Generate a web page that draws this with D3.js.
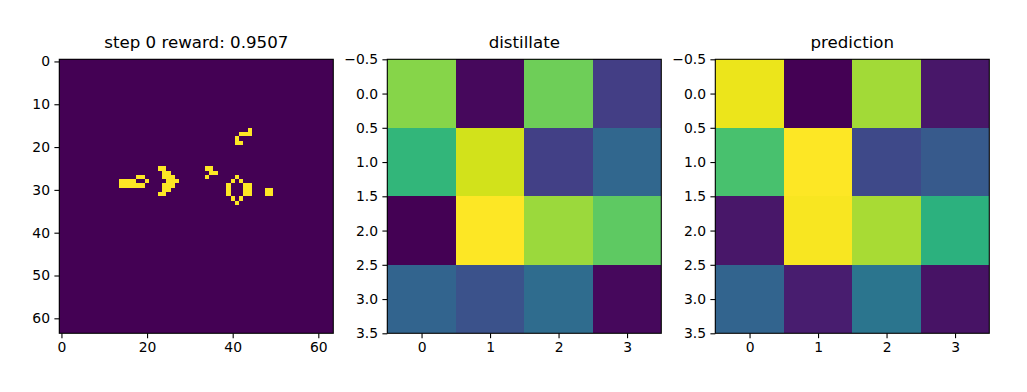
<!DOCTYPE html>
<html><head><meta charset="utf-8">
<script src="https://cdn.jsdelivr.net/npm/d3@7"></script>
<style>body{margin:0;background:#fff}svg{display:block}text{font-family:"DejaVu Sans",sans-serif;fill:#000}</style>
</head><body>
<svg id="c" width="1027" height="392"></svg>
<script>
// ---- data ----
const gridSize = 64;
// live cells [col,row] of the step-0 board
const aliveCells = [
  [14,28],[15,28],[16,28],[14,29],[15,29],[16,29],[17,29],
  [18,27],[19,27],[17,28],[20,28],[18,29],[19,29],
  [23,25],[24,25],[24,26],[25,26],[24,27],[25,27],[26,27],[25,28],[26,28],[27,28],
  [24,29],[25,29],[26,29],[24,30],[25,30],[23,31],[24,31],
  [44,16],[42,17],[43,17],[44,17],[41,18],[41,19],[42,19],
  [34,25],[35,25],[35,26],[36,26],[34,27],
  [41,27],[40,28],[42,28],[39,29],[43,29],[44,29],[39,30],[43,30],[44,30],[39,31],[43,31],[44,31],[40,32],[42,32],[41,33],
  [48,30],[49,30],[48,31],[49,31]
];
const distillate = [
  [0.82,0.02,0.78,0.18],
  [0.66,0.93,0.19,0.33],
  [0.00,1.00,0.85,0.75],
  [0.32,0.25,0.35,0.02]
];
const prediction = [
  [0.97,0.00,0.86,0.06],
  [0.71,1.00,0.22,0.28],
  [0.06,0.99,0.87,0.64],
  [0.32,0.08,0.39,0.05]
];
const titles = ["step 0 reward: 0.9507","distillate","prediction"];
const bigXTicks = [0,20,40,60];
const bigYTicks = [0,10,20,30,40,50,60];
const smallXTicks = [0,1,2,3];
const smallYTicks = [-0.5,0,0.5,1,1.5,2,2.5,3,3.5];

// ---- drawing ----
const svg = d3.select("#c");
const size = 274, top0 = 59.3;
const lefts = [59.3, 387.3, 715.3];
const fmtSmall = v => d3.format(".1f")(v).replace("-", "\u2212");

function panel(i, n, matrix, xt, yt, yfmt) {
  const x0 = lefts[i];
  const x = d3.scaleLinear().domain([-0.5, n - 0.5]).range([x0, x0 + size]);
  const y = d3.scaleLinear().domain([-0.5, n - 0.5]).range([top0, top0 + size]);
  const flat = [];
  matrix.forEach((row, r) => row.forEach((v, c) => flat.push({r, c, v})));
  const ext = d3.extent(flat, d => d.v);
  const color = d3.scaleSequential(d3.interpolateViridis).domain(ext);
  const g = svg.append("g");
  g.selectAll("rect.cell").data(flat).join("rect")
    .attr("x", d => x(d.c - 0.5)).attr("y", d => y(d.r - 0.5))
    .attr("width", d => x(d.c + 0.5) - x(d.c - 0.5) + 0.05)
    .attr("height", d => y(d.r + 0.5) - y(d.r - 0.5) + 0.05)
    .attr("fill", d => color(d.v)).attr("shape-rendering", "crispEdges");
  g.append("rect").attr("x", x0).attr("y", top0).attr("width", size).attr("height", size)
    .attr("fill", "none").attr("stroke", "#000").attr("stroke-width", 1.1);
  const ax = g.append("g").attr("transform", `translate(0,${top0 + size})`)
    .call(d3.axisBottom(x).tickValues(xt).tickSize(4.9).tickPadding(4.2).tickFormat(d3.format("d")));
  const ay = g.append("g").attr("transform", `translate(${x0},0)`)
    .call(d3.axisLeft(y).tickValues(yt).tickSize(4.9).tickPadding(4.4).tickFormat(yfmt));
  [ax, ay].forEach(a => {
    a.select(".domain").remove();
    a.selectAll(".tick line").attr("stroke", "#000").attr("stroke-width", 1.1);
    a.selectAll(".tick text").attr("font-size", "13.9px").attr("font-family", "DejaVu Sans").attr("fill", "#000");
  });
  g.append("text").attr("x", x0 + size / 2).attr("y", 47.5).attr("text-anchor", "middle")
    .attr("font-size", "16.67px").text(titles[i]);
}

const board = d3.range(gridSize).map(() => d3.range(gridSize).map(() => 0));
aliveCells.forEach(([c, r]) => { board[r][c] = 1; });
panel(0, gridSize, board, bigXTicks, bigYTicks, d3.format("d"));
panel(1, 4, distillate, smallXTicks, smallYTicks, fmtSmall);
panel(2, 4, prediction, smallXTicks, smallYTicks, fmtSmall);
</script>
</body></html>
